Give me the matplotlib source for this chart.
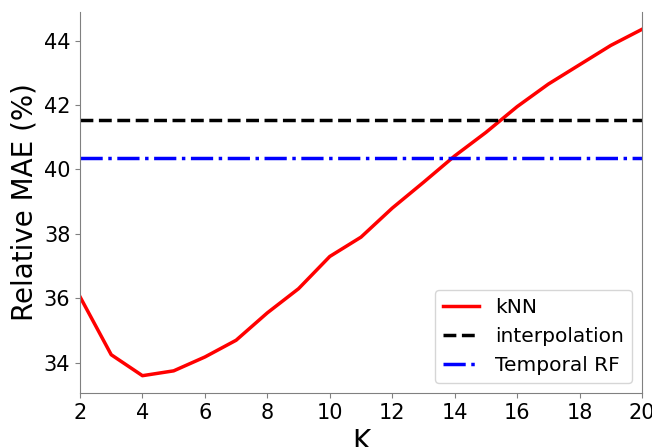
import matplotlib
matplotlib.use("Agg")
import matplotlib.pyplot as plt

k_values = list(range(2, 21))
knn_mae = [36.05, 34.25, 33.6, 33.75, 34.18, 34.7, 35.55, 36.3, 37.3, 37.9,
           38.8, 39.6, 40.42, 41.15, 41.95, 42.65, 43.25, 43.85, 44.35]
interp_mae = 41.55
temporal_rf_mae = 40.35

fig = plt.figure(figsize=(6.52, 4.47), dpi=100)
ax = fig.add_axes([80/652, 1 - 393/447, (642-80)/652, (393-12)/447])

ax.plot(k_values, knn_mae, color="red", lw=2.5, label="kNN")
ax.axhline(interp_mae, color="black", ls="--", lw=2.5, label="interpolation")
ax.axhline(temporal_rf_mae, color="blue", ls="-.", lw=2.5, label="Temporal RF")

ax.set_xlim(2, 20)
ax.set_xticks(range(2, 21, 2))
ax.set_yticks([34, 36, 38, 40, 42, 44])
ax.tick_params(labelsize=15, color="gray")
ax.spines["top"].set_visible(False)
for s in ["left", "right", "bottom"]:
    ax.spines[s].set_color("gray")
ax.set_xlabel("K", fontsize=20)
ax.set_ylabel("Relative MAE (%)", fontsize=20)
ax.legend(loc="lower right", fontsize=14.5, handlelength=1.8)

fig.savefig("out.png", dpi=100)
